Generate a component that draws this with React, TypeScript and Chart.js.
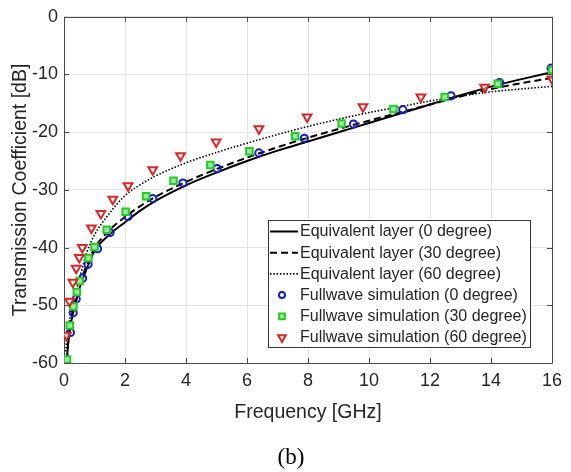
import React, { useEffect, useRef } from 'react';
import { Chart, registerables } from 'chart.js';

Chart.register(...registerables);

const FONT = '"Liberation Sans", Arial, Helvetica, sans-serif';
const TEXT = '#262626';
const AXIS = '#4a4a4a';

const xTickValues = [0, 2, 4, 6, 8, 10, 12, 14, 16];
const yTickValues = [-60, -50, -40, -30, -20, -10, 0];

// Equivalent layer curves
const eq0Freq = [0.08, 0.15, 0.25, 0.35, 0.5, 0.75, 1, 1.5, 2, 2.5, 3, 4, 5, 6, 7, 8, 9, 10, 11, 12, 13, 14, 15, 16];
const eq0Db = [-60, -56, -52.5, -50.3, -47.2, -43.6, -40.6, -37.7, -35.6, -33.6, -31.9, -29.2, -27.0, -25.0, -23.2, -21.6, -20.0, -18.4, -16.8, -15.2, -13.6, -12.1, -10.8, -9.6];

const eq30Freq = [0.1, 0.15, 0.25, 0.35, 0.5, 0.75, 1, 1.5, 2, 2.5, 3, 4, 5, 6, 7, 8, 9, 10, 11, 12, 13, 14, 15, 16];
const eq30Db = [-59.5, -55.5, -51.8, -49.5, -46.6, -42.9, -40.1, -36.9, -34.7, -32.8, -31.2, -28.6, -26.4, -24.4, -22.6, -20.95, -19.45, -18.0, -16.6, -15.2, -13.8, -12.5, -11.5, -10.6];

const eq60Freq = [0.05, 0.1, 0.2, 0.3, 0.5, 0.75, 1, 1.5, 2, 2.5, 3, 4, 5, 6, 7, 8, 9, 10, 11, 12, 13, 14, 15, 16];
const eq60Db = [-58, -55.5, -52, -49.5, -45.5, -40.8, -37.8, -34.0, -31.0, -29.1, -27.6, -25.3, -23.5, -21.9, -20.4, -19.0, -17.75, -16.6, -15.6, -14.6, -13.75, -13.0, -12.5, -12.05];

// Fullwave simulation points
const fw0Freq = [0.21, 0.3, 0.4, 0.61, 0.79, 1.1, 1.51, 2.1, 2.91, 3.9, 5.02, 6.39, 7.88, 9.49, 11.11, 12.69, 14.28, 15.97];
const fw0Db = [-54.7, -51.3, -48.9, -45.3, -42.9, -40.2, -37.4, -34.6, -31.5, -28.8, -26.3, -23.6, -21.05, -18.6, -16.1, -13.7, -11.4, -8.9];

const fw30Freq = [0.1, 0.19, 0.31, 0.42, 0.51, 0.8, 1.0, 1.4, 2.02, 2.69, 3.59, 4.8, 6.08, 7.58, 9.1, 10.8, 12.48, 14.22, 16.0];
const fw30Db = [-59.4, -53.5, -50.2, -47.7, -45.8, -41.8, -39.9, -36.9, -33.8, -31.1, -28.4, -25.7, -23.3, -20.7, -18.5, -16.0, -13.9, -11.6, -9.2];

const fw60Freq = [0.08, 0.18, 0.29, 0.4, 0.5, 0.6, 0.9, 1.21, 1.6, 2.1, 2.91, 3.82, 4.99, 6.39, 7.97, 9.8, 11.7, 13.79, 16.0];
const fw60Db = [-55.2, -49.3, -46.0, -43.6, -41.7, -40.0, -36.6, -34.1, -31.6, -29.3, -26.5, -24.1, -21.7, -19.4, -17.35, -15.6, -13.9, -12.2, -10.8];

const labels = [
  'Equivalent layer (0 degree)',
  'Equivalent layer (30 degree)',
  'Equivalent layer (60 degree)',
  'Fullwave simulation (0 degree)',
  'Fullwave simulation (30 degree)',
  'Fullwave simulation (60 degree)',
];

const pts = (xs: number[], ys: number[]) => xs.map((x, i) => ({ x, y: ys[i] }));

const BLUE = '#1a1acc';
const GREEN = '#22cc22';
const GREEN_FILL = '#9ee89e';
const RED = '#e02424';

const boxPlugin = {
  id: 'boxTicks',
  beforeDatasetsDraw(chart: any) {
    const { ctx, chartArea, scales } = chart;
    const { left, right, top, bottom } = chartArea;
    ctx.save();
    ctx.strokeStyle = AXIS;
    ctx.lineWidth = 1;
    ctx.beginPath();
    ctx.rect(Math.round(left) + 0.5, Math.round(top) + 0.5, Math.round(right - left), Math.round(bottom - top));
    ctx.stroke();
    const tl = 5;
    ctx.beginPath();
    xTickValues.forEach((v) => {
      const px = Math.round(scales.x.getPixelForValue(v)) + 0.5;
      ctx.moveTo(px, bottom);
      ctx.lineTo(px, bottom - tl);
      ctx.moveTo(px, top);
      ctx.lineTo(px, top + tl);
    });
    yTickValues.forEach((v) => {
      const py = Math.round(scales.y.getPixelForValue(v)) + 0.5;
      ctx.moveTo(left, py);
      ctx.lineTo(left + tl, py);
      ctx.moveTo(right, py);
      ctx.lineTo(right - tl, py);
    });
    ctx.stroke();
    ctx.restore();
  },
};

function drawMarker(ctx: CanvasRenderingContext2D, style: string, x: number, y: number, r: number) {
  ctx.beginPath();
  if (style === 'circle') {
    ctx.arc(x, y, r, 0, Math.PI * 2);
  } else if (style === 'rect') {
    const s = r * Math.SQRT1_2;
    ctx.rect(x - s, y - s, 2 * s, 2 * s);
  } else {
    const a = Math.PI / 2;
    for (let k = 0; k < 3; k++) {
      const ang = a + (k * 2 * Math.PI) / 3;
      const px = x + Math.cos(ang) * r;
      const py = y + Math.sin(ang) * r;
      if (k === 0) ctx.moveTo(px, py);
      else ctx.lineTo(px, py);
    }
    ctx.closePath();
  }
  ctx.fill();
  ctx.stroke();
}

const legendPlugin = {
  id: 'customLegend',
  afterDatasetsDraw(chart: any) {
    const { ctx } = chart;
    const bx = 268.5, by = 220.5, bw = 262, bh = 127;
    const rowH = 21.2;
    const firstY = 231.5;
    ctx.save();
    ctx.fillStyle = '#ffffff';
    ctx.fillRect(bx, by, bw, bh);
    ctx.strokeStyle = '#333333';
    ctx.lineWidth = 1;
    ctx.setLineDash([]);
    ctx.strokeRect(bx, by, bw, bh);
    ctx.font = `16px ${FONT}`;
    ctx.textBaseline = 'middle';
    ctx.textAlign = 'left';
    const byLabel: any = {};
    chart.data.datasets.forEach((d: any) => { byLabel[d.label] = d; });
    labels.forEach((lab, i) => {
      const y = firstY + i * rowH;
      const ds = byLabel[lab];
      ctx.save();
      if (i < 3) {
        ctx.strokeStyle = '#000';
        ctx.lineWidth = ds.borderWidth;
        ctx.setLineDash(ds.borderDash || []);
        ctx.beginPath();
        ctx.moveTo(270, y);
        ctx.lineTo(298, y);
        ctx.stroke();
      } else {
        ctx.strokeStyle = ds.pointBorderColor;
        ctx.fillStyle = ds.pointBackgroundColor;
        ctx.lineWidth = ds.pointBorderWidth;
        drawMarker(ctx, ds.pointStyle, 282, y, ds.pointRadius - 0.6);
      }
      ctx.restore();
      ctx.fillStyle = TEXT;
      ctx.fillText(lab, 300, y + 0.5);
    });
    ctx.restore();
  },
};

export default function App() {
  const ref = useRef<HTMLCanvasElement | null>(null);

  useEffect(() => {
    if (!ref.current) return;
    const lineDs = (label: string, xs: number[], ys: number[], dash: number[], width: number, order: number) => ({
      type: 'line' as const,
      label,
      data: pts(xs, ys),
      borderColor: '#000000',
      borderWidth: width,
      borderDash: dash,
      pointRadius: 0,
      showLine: true,
      fill: false,
      cubicInterpolationMode: 'monotone' as const,
      order,
    });
    const markDs = (label: string, xs: number[], ys: number[], style: string, radius: number, color: string, bg: string, rotation: number, order: number) => ({
      type: 'scatter' as const,
      label,
      data: pts(xs, ys),
      showLine: false,
      pointStyle: style,
      pointRadius: radius,
      pointRotation: rotation,
      pointBorderColor: color,
      pointBackgroundColor: bg,
      pointBorderWidth: 2,
      borderColor: color,
      backgroundColor: bg,
      order,
    });

    const chart = new Chart(ref.current, {
      type: 'scatter',
      data: {
        datasets: [
          lineDs(labels[0], eq0Freq, eq0Db, [], 2, 6),
          lineDs(labels[1], eq30Freq, eq30Db, [7, 4], 2, 5),
          lineDs(labels[2], eq60Freq, eq60Db, [1.5, 1.8], 1.6, 4),
          markDs(labels[3], fw0Freq, fw0Db, 'circle', 3.6, BLUE, 'rgba(255,255,255,0)', 0, 3),
          markDs(labels[4], fw30Freq, fw30Db, 'rect', 4.6, GREEN, GREEN_FILL, 0, 2),
          markDs(labels[5], fw60Freq, fw60Db, 'triangle', 5, RED, 'rgba(255,255,255,0.6)', 180, 1),
        ] as any,
      },
      options: {
        responsive: false,
        animation: false,
        devicePixelRatio: 1,
        layout: { padding: { top: 11, right: 19, left: 0, bottom: 0 } },
        plugins: {
          legend: { display: false },
          tooltip: { enabled: false },
        },
        scales: {
          x: {
            type: 'linear',
            min: 0,
            max: 16,
            grid: { color: '#e4e4e4', drawTicks: false, lineWidth: 1 },
            border: { display: false },
            ticks: {
              stepSize: 2,
              padding: 7,
              color: TEXT,
              font: { family: FONT, size: 18 },
              maxRotation: 0,
            },
            title: {
              display: true,
              text: 'Frequency [GHz]',
              color: TEXT,
              font: { family: FONT, size: 19.5 },
              padding: { top: 0, bottom: 48 },
            },
            afterFit: (s: any) => { s.height = 109; },
          },
          y: {
            type: 'linear',
            min: -60,
            max: 0,
            grid: { color: '#e4e4e4', drawTicks: false, lineWidth: 1 },
            border: { display: false },
            ticks: {
              stepSize: 10,
              padding: 6,
              color: TEXT,
              font: { family: FONT, size: 18 },
            },
            title: {
              display: true,
              text: 'Transmission Coefficient [dB]',
              color: TEXT,
              font: { family: FONT, size: 19.5 },
              padding: { top: 9, bottom: 0 },
            },
            afterFit: (s: any) => { s.width = 64; },
          },
        },
      } as any,
      plugins: [boxPlugin, legendPlugin],
    });
    return () => chart.destroy();
  }, []);

  return (
    <div style={{ position: 'fixed', left: 0, top: 0, width: 571, height: 472, background: '#ffffff' }}>
      <canvas ref={ref} width={571} height={472} style={{ display: 'block', width: 571, height: 472 }} />
      <div
        style={{
          position: 'absolute',
          left: 0,
          width: 582,
          top: 443,
          textAlign: 'center',
          fontFamily: '"Liberation Serif", "Times New Roman", serif',
          fontSize: 23,
          lineHeight: '28px',
          color: '#000',
        }}
      >
        (b)
      </div>
    </div>
  );
}
